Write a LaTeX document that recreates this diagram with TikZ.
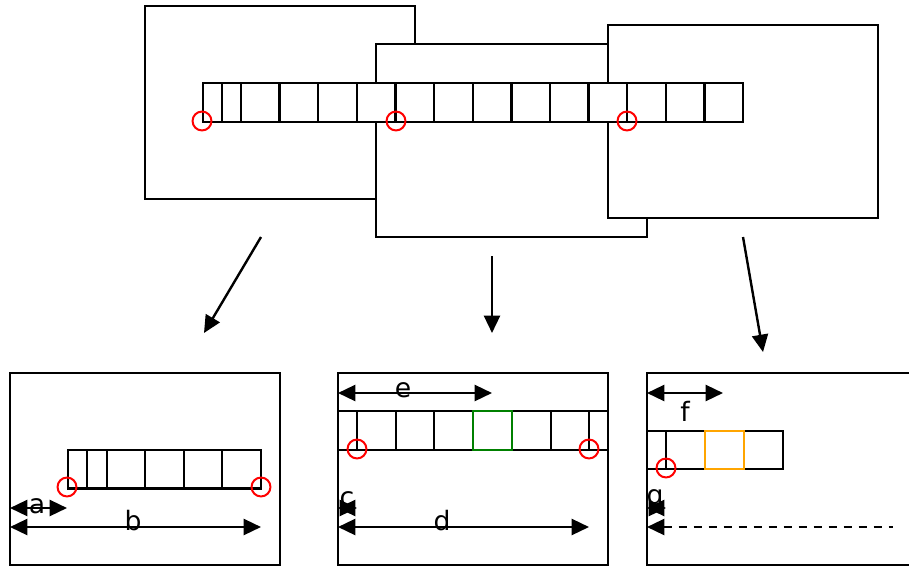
\documentclass[tikz,border=0pt]{standalone}
\usepackage{fontspec}
\setmainfont{DejaVu Sans}
\usetikzlibrary{arrows.meta}
\tikzset{
  ln/.style={line width=1.8pt},
  panel/.style={ln, fill=white},
  ring/.style={red, line width=1.5pt},
  tipA/.tip={Triangle[length=13pt,width=12pt]},
  dimline/.style={ln, tipA-tipA},
  flow/.style={ln, -tipA},
  dashdim/.style={ln, tipA-, dash pattern=on 6pt off 5.25pt},
  lbl/.style={font=\fontsize{20}{23}\selectfont, inner sep=0pt, anchor=base},
}
\begin{document}
\begin{tikzpicture}[x=0.75pt,y=-0.75pt]
\useasboundingbox (0,0) rectangle (909,567);
% ---------- top: three overlapping windows ----------
\draw[panel] (145,6) rectangle (415,199);
\draw[panel] (376,44) rectangle (647,237);
\draw[panel] (608,25) rectangle (878,218);
% long strip
\draw[panel] (203,83) rectangle (743,122);
\foreach \x in {222,241,279.6,318.2,356.8,395.5,434.1,472.7,511.3,549.9,588.5,627.2,665.8,704.4}
  \draw[ln] (\x,83) -- (\x,122);
\draw[ring] (202,121) circle[radius=7.1pt];
\draw[ring] (396,121) circle[radius=7.1pt];
\draw[ring] (627,121) circle[radius=7.1pt];
% ---------- flow arrows ----------
\coordinate (s1) at (261,237); \coordinate (t1) at (204,333);
\coordinate (s2) at (492,256); \coordinate (t2) at (492,333);
\coordinate (s3) at (743,237); \coordinate (t3) at (763,352);
\draw[flow] (s1) -- (t1);
\draw[flow] (s2) -- (t2);
\draw[flow] (s3) -- (t3);
% ---------- bottom panel 1 ----------
\draw[panel] (10,373) rectangle (280,565);
\draw[ln] (68,450) rectangle (261,488.5);
\foreach \x in {87,107,145,184,222}
  \draw[ln] (\x,450) -- (\x,488.5);
\draw[ring] (67,487) circle[radius=7.1pt];
\draw[ring] (261,487) circle[radius=7.1pt];
\coordinate (a0) at (10,508); \coordinate (a1) at (67,508);
\coordinate (b0) at (10,527); \coordinate (b1) at (261,527);
\node[lbl] (la) at (37,513) {a};
\node[lbl] (lb) at (133,530.5) {b};
\draw[dimline] (a0) -- (a1);
\draw[dimline] (b0) -- (b1);
% ---------- bottom panel 2 ----------
\draw[panel] (338,373) rectangle (608,565);
\draw[ln] (338,411) -- (608,411);
\draw[ln] (338,450) -- (608,450);
\foreach \x in {357,396,434,551,589}
  \draw[ln] (\x,411) -- (\x,450);
\draw[ln, draw={rgb,255:red,0;green,128;blue,0}] (473,411) rectangle (512,450);
\draw[ring] (357,449) circle[radius=7.1pt];
\draw[ring] (589,449) circle[radius=7.1pt];
\coordinate (e0) at (338,393); \coordinate (e1) at (492,393);
\coordinate (c0) at (338,508); \coordinate (c1) at (357,508);
\coordinate (d0) at (338,527); \coordinate (d1) at (589,527);
\node[lbl] (le) at (403,397) {e};
\node[lbl] (lc) at (347,506) {c};
\node[lbl] (ld) at (442,530.5) {d};
\draw[dimline] (e0) -- (e1);
\draw[dimline] (c0) -- (c1);
\draw[dimline] (d0) -- (d1);
% ---------- bottom panel 3 ----------
\draw[panel] (647,373) rectangle (918,565);
\draw[ln] (647,431) -- (783,431) -- (783,469) -- (647,469);
\foreach \x in {666,705,744}
  \draw[ln] (\x,431) -- (\x,469);
\draw[ln, draw={rgb,255:red,255;green,165;blue,0}] (705,431) rectangle (744,469);
\draw[ring] (666,468) circle[radius=7.1pt];
\coordinate (f0) at (647,393); \coordinate (f1) at (723,393);
\coordinate (g0) at (647,508); \coordinate (g1) at (666,508);
\coordinate (h0) at (893,527); \coordinate (h1) at (647,527);
\node[lbl] (lf) at (685,421) {f};
\node[lbl] (lg) at (655,504) {g};
\draw[dimline] (f0) -- (f1);
\draw[dimline] (g0) -- (g1);
\draw[dashdim] (h1) -- (h0);
\end{tikzpicture}
\end{document}
